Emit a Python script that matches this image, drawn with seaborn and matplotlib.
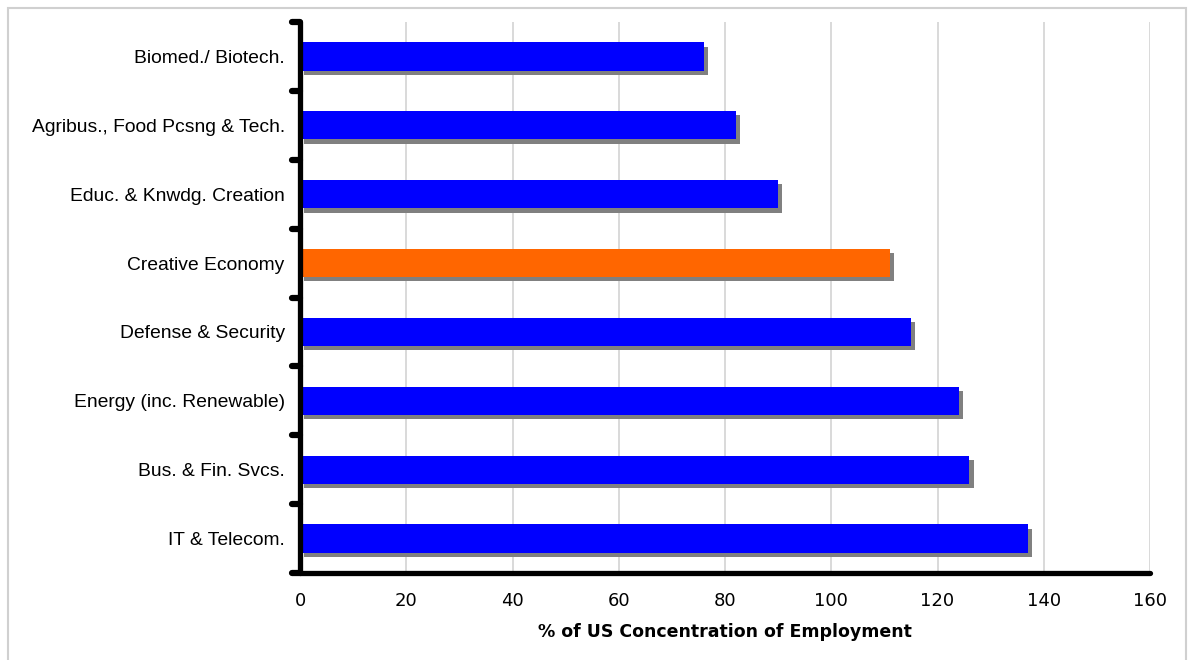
import matplotlib
matplotlib.use("Agg")
import matplotlib.pyplot as plt
import matplotlib.patheffects as pe
from matplotlib.patches import Rectangle
from matplotlib.markers import MarkerStyle, TICKLEFT
import seaborn as sns
import pandas as pd
import numpy as np

categories = ["Biomed./ Biotech.", "Agribus., Food Pcsng & Tech.", "Educ. & Knwdg. Creation",
              "Creative Economy", "Defense & Security", "Energy (inc. Renewable)",
              "Bus. & Fin. Svcs.", "IT & Telecom."]
values = [76, 82, 90, 111, 115, 124, 126, 137]
highlight = "Creative Economy"
x_ticks = [0, 20, 40, 60, 80, 100, 120, 140, 160]
x_label = "% of US Concentration of Employment"

df = pd.DataFrame({"cat": categories, "val": values})
palette = {c: ("#FF6600" if c == highlight else "#0000FF") for c in categories}

sns.set_style("white")
fig = plt.figure(figsize=(11.88, 6.6), dpi=100)
ax = fig.add_axes([300/1188, 1-573/660, 850/1188, 551/660])

sns.barplot(data=df, y="cat", x="val", hue="cat", palette=palette, order=categories,
            hue_order=categories, orient="h", width=0.41, legend=False, ax=ax,
            saturation=1, linewidth=0, zorder=3)

for p in ax.patches:
    p.set_path_effects([pe.SimplePatchShadow(offset=(3.1, -3.1), shadow_rgbFace="#808080", alpha=1.0),
                        pe.Normal()])

ax.set_xlim(0, 160)
ax.set_ylim(len(categories) - 0.5, -0.5)
ax.set_xticks(x_ticks)
ax.set_xticklabels([str(t) for t in x_ticks], fontsize=13, color="black")
ax.grid(axis="x", color="#d9d9d9", linewidth=1.4, zorder=0)
ax.grid(axis="y", visible=False)
ax.set_axisbelow(True)

ax.set_ylabel("")
ax.set_xlabel(x_label, fontsize=12.5, fontweight="bold", labelpad=9, color="black")
for lab in ax.get_yticklabels():
    lab.set_fontfamily("Liberation Sans")
    lab.set_fontsize(13.9)
    lab.set_color("black")

ax.tick_params(axis="x", length=0, pad=14)
ax.tick_params(axis="y", which="major", length=0, pad=11, left=True)
ax.set_yticks(np.arange(-0.5, len(categories), 1.0), minor=True)
ax.tick_params(axis="y", which="minor", left=True, length=6, width=4.5, color="black", direction="out")
for t in ax.yaxis.get_minor_ticks():
    t.tick1line.set_marker(MarkerStyle(TICKLEFT, capstyle="round"))

for s in ["top", "right"]:
    ax.spines[s].set_visible(False)
for s in ["left", "bottom"]:
    ax.spines[s].set_linewidth(3.8)
    ax.spines[s].set_color("black")
    ax.spines[s].set_capstyle("round")
    ax.spines[s].set_zorder(5)

fig.add_artist(Rectangle((8/1188, -0.1), 1178/1188, 1.1 - 8/660, transform=fig.transFigure,
                         fill=False, edgecolor="#d0d0d0", linewidth=1.5))

fig.savefig("out.png", dpi=100)
